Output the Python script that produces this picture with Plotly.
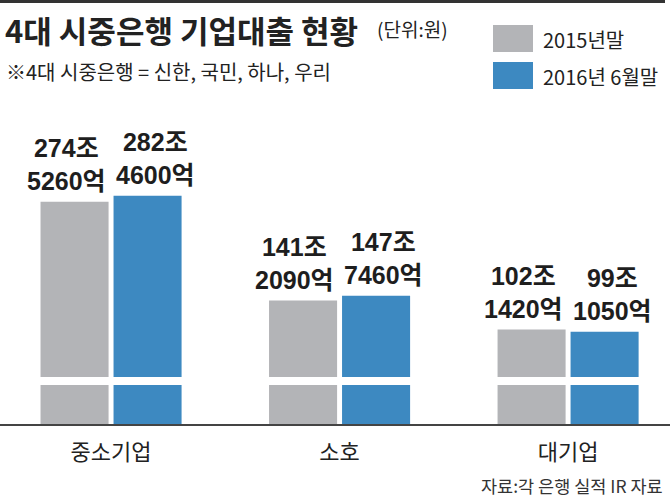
import plotly.graph_objects as go

# ---- data ----
categories = ["중소기업", "소호", "대기업"]
series_names = ["2015년말", "2016년 6월말"]
values_2015_eok = [2745260, 1412090, 1021420]   # 단위: 억원
values_2016_eok = [2824600, 1477460, 991050]    # 단위: 억원
colors = ["#B3B4B7", "#3D89C1"]

W, H = 670, 497


def py(px):
    """pixel row (from top) -> paper y"""
    return (H - px) / H


def label(v):
    return f"{v // 10000}조<br>{v % 10000}억"


label_font = dict(family="Liberation Sans, Noto Sans CJK KR, sans-serif",
                  size=25, color="#1e1e1e", weight="bold")

fig = go.Figure()
annotations = []
offsets = [-45, 44]  # px offset of each series' label from the category centre
for name, vals, col, off in zip(series_names, [values_2015_eok, values_2016_eok], colors, offsets):
    ys = [v / 10000 for v in vals]  # 조원
    # lower stub (below the axis break)
    fig.add_trace(go.Bar(x=categories, y=ys, name=name, marker=dict(color=col, line=dict(width=0)),
                         xaxis="x", yaxis="y", showlegend=False, hoverinfo="skip"))
    # upper part
    fig.add_trace(go.Bar(x=categories, y=ys, name=name, marker=dict(color=col, line=dict(width=0)),
                         xaxis="x2", yaxis="y2", showlegend=False, hoverinfo="skip"))
    for c, y, v in zip(categories, ys, vals):
        annotations.append(dict(text=label(v), x=c, y=y, xref="x2", yref="y2",
                                xanchor="center", yanchor="bottom", xshift=off, yshift=5,
                                showarrow=False, align="center", font=label_font))

shapes = [
    # top rule
    dict(type="line", xref="paper", yref="paper", x0=0, x1=665 / W, y0=py(1.5), y1=py(1.5),
         line=dict(color="#333333", width=3)),
]
paper_ann = [
    dict(text="<b>4대 시중은행 기업대출 현황</b>", x=3 / W, y=py(30), xanchor="left", yanchor="middle",
         font=dict(family="Noto Sans CJK KR", size=31, color="#222222")),
    dict(text="(단위:원)", x=375 / W, y=py(28), xanchor="left", yanchor="middle",
         font=dict(family="Noto Sans CJK KR", size=19, color="#222222")),
    dict(text="※4대 시중은행 = 신한, 국민, 하나, 우리", x=4 / W, y=py(71), xanchor="left", yanchor="middle",
         font=dict(family="Noto Sans CJK KR", size=20, color="#222222")),
    dict(text="자료:각 은행 실적 IR 자료", x=665 / W, y=py(485), xanchor="right", yanchor="middle",
         font=dict(family="Noto Sans CJK KR", size=17.5, color="#333333")),
]
# custom legend
leg_rows = [(25, 52), (62, 89)]
for (t, b), name, col in zip(leg_rows, series_names, colors):
    shapes.append(dict(type="rect", xref="paper", yref="paper", x0=493 / W, x1=533 / W,
                       y0=py(b), y1=py(t), fillcolor=col, line=dict(width=0)))
    paper_ann.append(dict(text=name, x=541 / W, y=py((t + b) / 2 + 1), xanchor="left", yanchor="middle",
                          font=dict(family="Noto Sans CJK KR", size=20, color="#222222")))

for a in paper_ann:
    a.update(xref="paper", yref="paper", showarrow=False)
annotations += paper_ann

fig.update_layout(
    width=W, height=H,
    margin=dict(l=0, r=0, t=0, b=0),
    paper_bgcolor="white", plot_bgcolor="white",
    barmode="group", bargap=0.361, bargroupgap=0.068,
    showlegend=False, hovermode=False,
    xaxis=dict(domain=[0, 1], anchor="y", range=[-0.486, 2.446], showline=True,
               linecolor="#444444", linewidth=1.5, ticks="outside", ticklen=8,
               tickcolor="rgba(0,0,0,0)", showgrid=False, zeroline=False,
               tickfont=dict(family="Noto Sans CJK KR", size=22, color="#222222")),
    xaxis2=dict(domain=[0, 1], anchor="y2", matches="x", visible=False),
    yaxis=dict(domain=[py(424), py(385)], range=[0, 30], visible=False),
    yaxis2=dict(domain=[py(377), py(120)], range=[38.3, 384.5], visible=False),
    shapes=shapes, annotations=annotations,
)

fig.write_html("out.html", config={"displayModeBar": False},
               post_script="document.body.style.margin='0';document.body.style.padding='0';"
                           "document.body.style.overflow='hidden';")
